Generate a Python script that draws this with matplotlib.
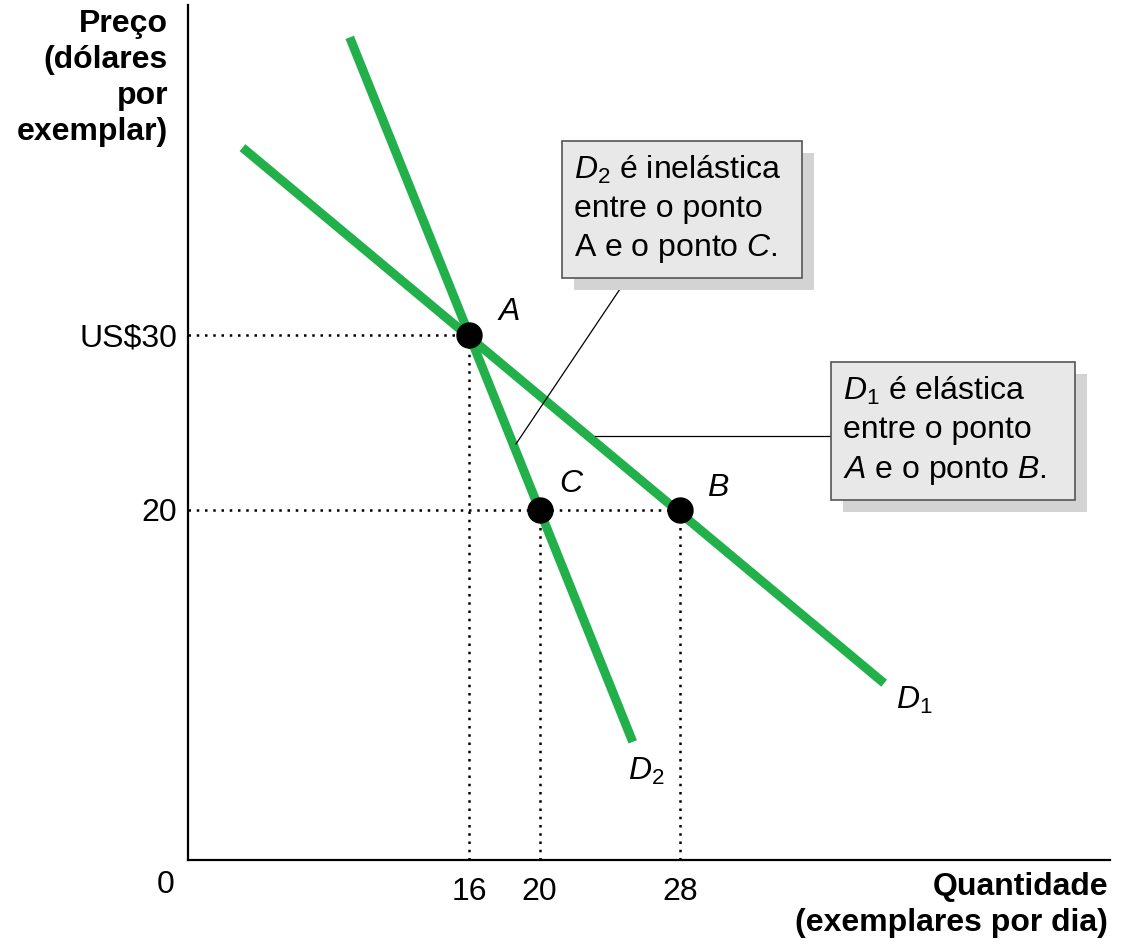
import matplotlib
matplotlib.use('Agg')
import matplotlib.pyplot as plt
from matplotlib.patches import Rectangle
import numpy as np

plt.rcParams['font.family'] = ['Liberation Sans', 'DejaVu Sans']
plt.rcParams['mathtext.fontset'] = 'custom'
plt.rcParams['mathtext.rm'] = 'Liberation Sans'
plt.rcParams['mathtext.it'] = 'Liberation Sans:italic'
plt.rcParams['mathtext.bf'] = 'Liberation Sans:bold'

# demand curves (quantity, price)
d1_q = [3.1, 39.6]
d1_p = [40.7, 10.1]
d2_q = [9.2, 25.3]
d2_p = [47.0, 6.75]

# points
pt_names = ['A', 'C', 'B']
pt_q = [16, 20, 28]
pt_p = [30, 20, 20]

xticks = [16, 20, 28]
yticks = [20, 30]
ytick_labels = ['20', 'US$30']

green = '#22b04b'
fs = 23

fig = plt.figure(figsize=(11.3, 9.5), dpi=100)
ax = fig.add_axes([188/1130, 1 - 860/950, (1110-188)/1130, (860-5)/950])
ax.set_xlim(0, 52.45)
ax.set_ylim(0, 48.85)
for s in ['top', 'right']:
    ax.spines[s].set_visible(False)
for s in ['left', 'bottom']:
    ax.spines[s].set_linewidth(1.6)

ax.set_xticks(xticks)
ax.set_xticklabels([str(v) for v in xticks], fontsize=fs)
ax.set_yticks(yticks)
ax.set_yticklabels(ytick_labels, fontsize=fs)
ax.tick_params(length=0, pad=12)
ax.tick_params(axis='y', pad=8)
ax.text(-1.3, -1.45, '0', fontsize=fs, ha='center', va='center')

# dotted guides
dots = dict(color='black', lw=1.8, linestyle=(0, (1, 2.3)), zorder=1)
ax.plot([0, pt_q[0]], [pt_p[0], pt_p[0]], **dots)
ax.plot([0, pt_q[2]], [pt_p[2], pt_p[2]], **dots)
for q, p in zip(pt_q, pt_p):
    ax.plot([q, q], [0, p], **dots)

ax.plot(d1_q, d1_p, color=green, lw=6.5, solid_capstyle='butt', zorder=3)
ax.plot(d2_q, d2_p, color=green, lw=6.5, solid_capstyle='butt', zorder=3)
ax.plot(pt_q, pt_p, 'o', color='black', ms=18, zorder=5)

offs = {'A': (40, 23), 'C': (31, 26), 'B': (38, 22)}
for n, q, p in zip(pt_names, pt_q, pt_p):
    ax.annotate(n, (q, p), xytext=offs[n], textcoords='offset pixels',
                fontsize=fs, style='italic', ha='center', va='center')
ax.annotate(r'$\mathit{D}_\mathrm{1}$', (d1_q[1], d1_p[1]), xytext=(30, -17),
            textcoords='offset pixels', fontsize=fs, ha='center', va='center')
ax.annotate(r'$\mathit{D}_\mathrm{2}$', (d2_q[1], d2_p[1]), xytext=(14, -30),
            textcoords='offset pixels', fontsize=fs, ha='center', va='center')

# callout boxes
def callout(x0, x1, y0, y1, txt):
    sh = Rectangle((x0 + 0.68, y0 - 0.69), x1 - x0, y1 - y0, facecolor='#d3d3d3',
                   edgecolor='none', zorder=6, clip_on=False)
    bx = Rectangle((x0, y0), x1 - x0, y1 - y0, facecolor='#e8e8e8',
                   edgecolor='#555555', lw=1.2, zorder=7, clip_on=False)
    ax.add_patch(sh)
    ax.add_patch(bx)
    ax.text(x0 + 0.7, (y0 + y1) / 2, txt, fontsize=fs, ha='left', va='center',
            linespacing=1.35, zorder=8)

callout(21.27, 34.93, 33.26, 41.09,
        '$\\mathit{D}_\\mathrm{2}$ é inelástica\nentre o ponto\nA e o ponto $\\mathit{C}$.')
callout(36.58, 50.45, 20.57, 28.46,
        '$\\mathit{D}_\\mathrm{1}$ é elástica\nentre o ponto\n$\\mathit{A}$ e o ponto $\\mathit{B}$.')

ax.plot([25.0, 18.66], [33.26, 23.77], color='black', lw=0.9, zorder=4)
ax.plot([23.15, 36.58], [24.23, 24.23], color='black', lw=0.9, zorder=4)

fig.text(168/1130, 1 - 78/950, 'Preço\n(dólares\npor\nexemplar)', fontsize=fs,
         fontweight='bold', ha='right', va='center', linespacing=1.27)
fig.text(1108/1130, 1 - 905/950, 'Quantidade\n(exemplares por dia)', fontsize=fs,
         fontweight='bold', ha='right', va='center', linespacing=1.27)

fig.savefig('out.png', dpi=100)
